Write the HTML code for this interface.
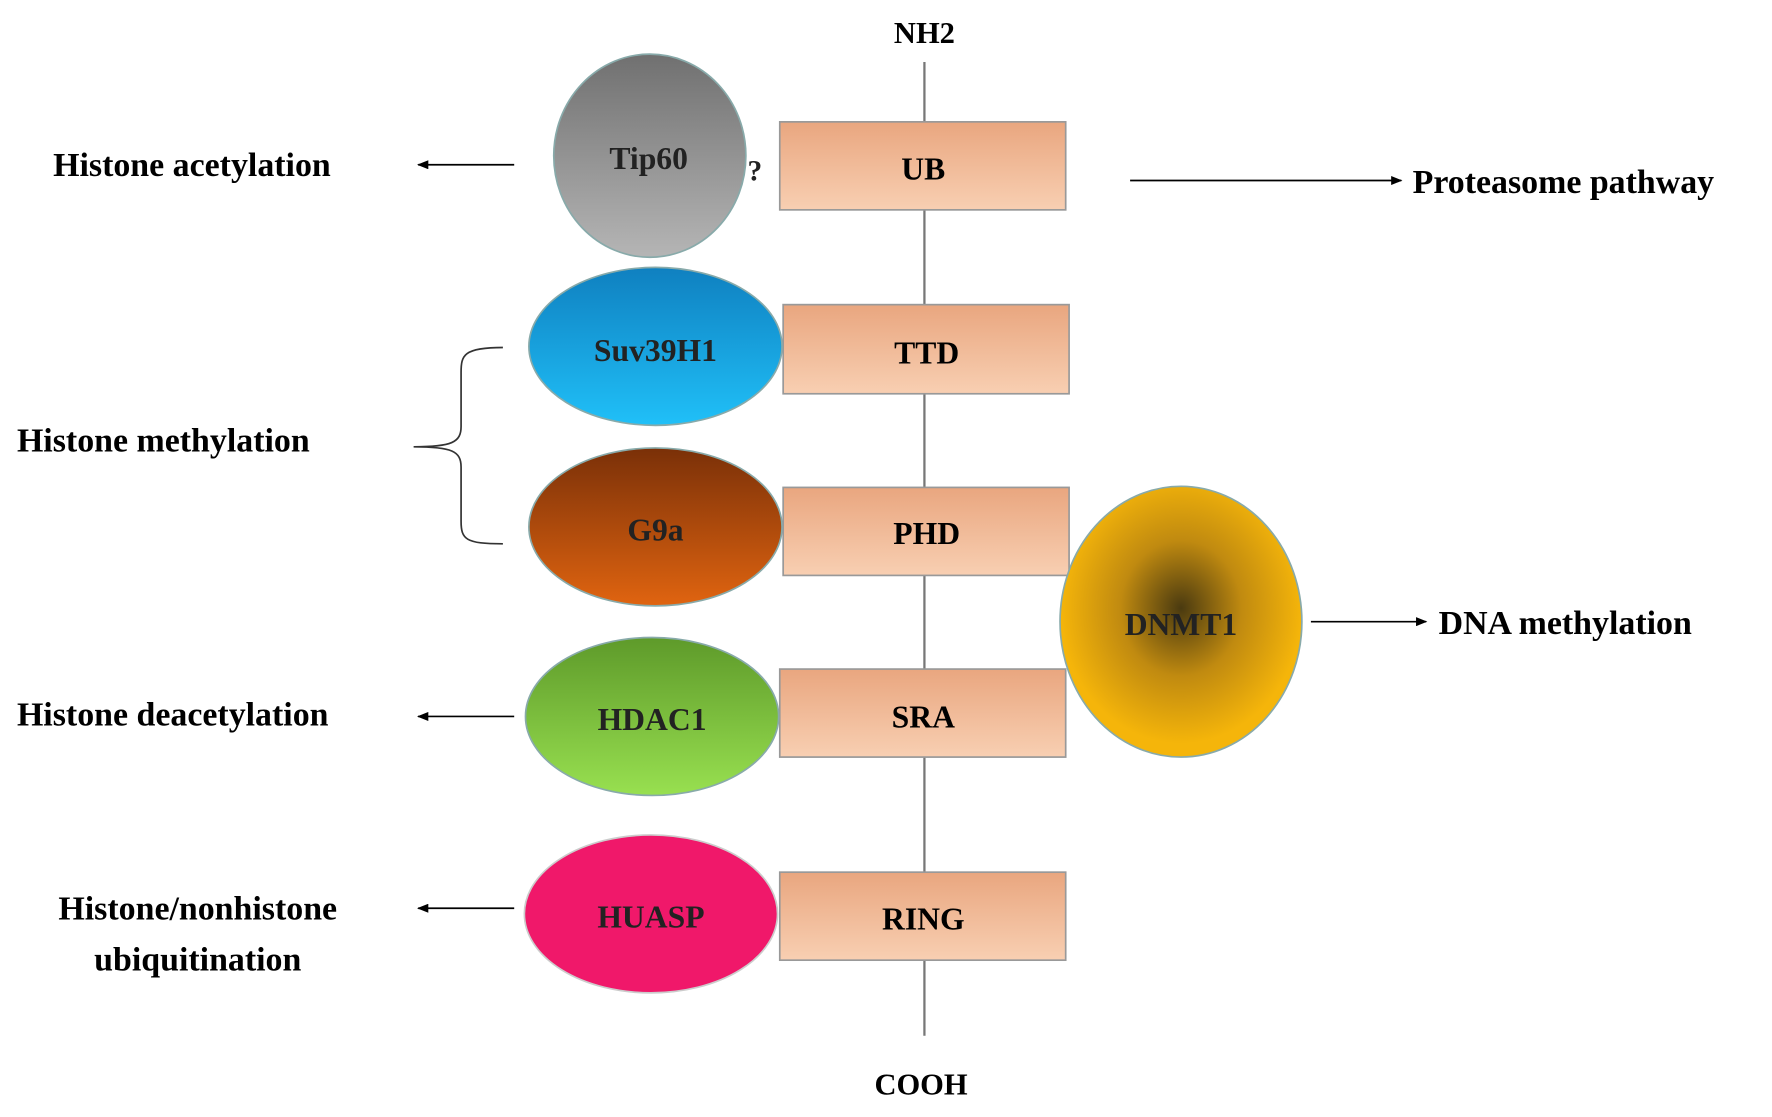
<!DOCTYPE html>
<html><head><meta charset="utf-8"><style>html,body{margin:0;padding:0;background:#fff}svg{display:block}</style></head>
<body>
<svg width="1772" height="1117" viewBox="0 0 1568 990" preserveAspectRatio="none" xmlns="http://www.w3.org/2000/svg" font-family="Liberation Serif, serif" font-weight="bold">
<defs>
<linearGradient id="box" x1="0" y1="0" x2="0" y2="1"><stop offset="0" stop-color="#e9a67f"/><stop offset="1" stop-color="#f8cfb2"/></linearGradient>
<linearGradient id="gray" x1="0" y1="0" x2="0" y2="1"><stop offset="0" stop-color="#707070"/><stop offset="1" stop-color="#b5b5b5"/></linearGradient>
<linearGradient id="blue" x1="0" y1="0" x2="0" y2="1"><stop offset="0" stop-color="#0f80c0"/><stop offset="1" stop-color="#20c0f8"/></linearGradient>
<linearGradient id="brown" x1="0" y1="0" x2="0" y2="1"><stop offset="0" stop-color="#7a3008"/><stop offset="1" stop-color="#e06410"/></linearGradient>
<linearGradient id="green" x1="0" y1="0" x2="0" y2="1"><stop offset="0" stop-color="#5e9a2a"/><stop offset="1" stop-color="#98e050"/></linearGradient>
<radialGradient id="gold" cx="0.5" cy="0.45" r="0.5"><stop offset="0" stop-color="#4a3a10"/><stop offset="0.5" stop-color="#c08a10"/><stop offset="1" stop-color="#f5b50a"/></radialGradient>
<marker id="ah" markerWidth="10" markerHeight="8" refX="9" refY="4" orient="auto" markerUnits="userSpaceOnUse"><path d="M0,0 L10,4 L0,8 z" fill="#000"/></marker>
</defs>
<line x1="818" y1="55" x2="818" y2="918" stroke="#777" stroke-width="2"/>
<text x="818" y="38" text-anchor="middle" font-size="27">NH2</text>
<text x="815" y="970" text-anchor="middle" font-size="27">COOH</text>
<g stroke="#999" stroke-width="1.5" fill="url(#box)">
<rect x="690" y="108" width="253" height="78"/>
<rect x="693" y="270" width="253" height="79"/>
<rect x="693" y="432" width="253" height="78"/>
<rect x="690" y="593" width="253" height="78"/>
<rect x="690" y="773" width="253" height="78"/>
</g>
<g font-size="28" text-anchor="middle">
<text x="817" y="159">UB</text>
<text x="820" y="322">TTD</text>
<text x="820" y="482">PHD</text>
<text x="817" y="645">SRA</text>
<text x="817" y="824">RING</text>
</g>
<g stroke="#8aa" stroke-width="1.5">
<ellipse cx="575" cy="138" rx="85" ry="90" fill="url(#gray)"/>
<ellipse cx="580" cy="307" rx="112" ry="70" fill="url(#blue)"/>
<ellipse cx="580" cy="467" rx="112" ry="70" fill="url(#brown)"/>
<ellipse cx="577" cy="635" rx="112" ry="70" fill="url(#green)"/>
<ellipse cx="576" cy="810" rx="112" ry="70" fill="#f0186a" stroke="#ccc"/>
<ellipse cx="1045" cy="551" rx="107" ry="120" fill="url(#gold)"/>
</g>
<g font-size="28" text-anchor="middle" fill="#222">
<text x="574" y="150">Tip60</text>
<text x="580" y="320">Suv39H1</text>
<text x="580" y="479">G9a</text>
<text x="577" y="647">HDAC1</text>
<text x="576" y="822">HUASP</text>
<text x="1045" y="563">DNMT1</text>
<text x="668" y="160" font-size="26">?</text>
</g>
<g stroke="#000" stroke-width="1.5" marker-end="url(#ah)">
<line x1="455" y1="146" x2="370" y2="146"/>
<line x1="1000" y1="160" x2="1240" y2="160"/>
<line x1="1160" y1="551" x2="1262" y2="551"/>
<line x1="455" y1="635" x2="370" y2="635"/>
<line x1="455" y1="805" x2="370" y2="805"/>
</g>
<path d="M445,308 C410,308 408,315 408,330 L408,378 C408,392 400,396 366,396 C400,396 408,400 408,414 L408,462 C408,478 412,482 445,482" fill="none" stroke="#333" stroke-width="1.5"/>
<g font-size="30">
<text x="47" y="156">Histone acetylation</text>
<text x="1250" y="171">Proteasome pathway</text>
<text x="15" y="400">Histone methylation</text>
<text x="1273" y="562">DNA methylation</text>
<text x="15" y="643">Histone deacetylation</text>
<text x="175" y="815" text-anchor="middle">Histone/nonhistone</text>
<text x="175" y="860" text-anchor="middle">ubiquitination</text>
</g>
</svg>
</body></html>
